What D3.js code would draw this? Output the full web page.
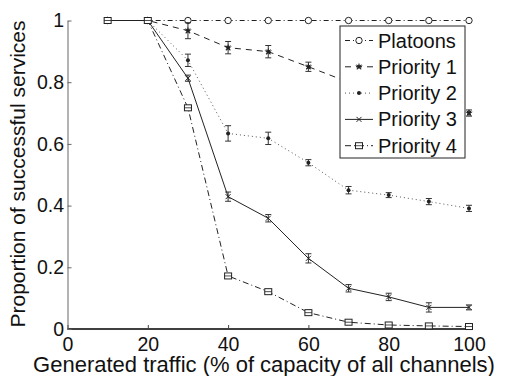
<!DOCTYPE html>
<html>
<head>
<meta charset="utf-8">
<script src="https://cdn.jsdelivr.net/npm/d3@7"></script>
<style>
  body { margin: 0; background: #fff; }
  text { font-family: "Liberation Sans", Arial, sans-serif; fill: #111; }
</style>
</head>
<body>
<div id="chart"></div>
<script>
// data
var traffic = [10, 20, 30, 40, 50, 60, 70, 80, 90, 100];
var seriesNames = ["Platoons", "Priority 1", "Priority 2", "Priority 3", "Priority 4"];
var platoons  = [1, 1, 1, 1, 1, 1, 1, 1, 1, 1];
var priority1 = [1, 1, 0.967, 0.912, 0.899, 0.85, 0.80, 0.76, 0.73, 0.70];
var priority2 = [1, 1, 0.871, 0.634, 0.618, 0.539, 0.45, 0.434, 0.413, 0.391];
var priority3 = [1, 1, 0.813, 0.429, 0.359, 0.229, 0.132, 0.104, 0.07, 0.07];
var priority4 = [1, 1, 0.717, 0.172, 0.121, 0.053, 0.022, 0.013, 0.01, 0.008];
// half-width of error bars
var err1 = [0, 0, 0.026, 0.02, 0.02, 0.015, 0.015, 0.015, 0.015, 0.01];
var err2 = [0, 0, 0.02, 0.025, 0.02, 0.01, 0.012, 0.008, 0.01, 0.01];
var err3 = [0, 0, 0.01, 0.015, 0.012, 0.015, 0.012, 0.012, 0.015, 0.008];
var err4 = [0, 0, 0.005, 0.005, 0.004, 0.004, 0.004, 0.003, 0.003, 0.003];
var xTicks = [0, 20, 40, 60, 80, 100];
var yTicks = [0, 0.2, 0.4, 0.6, 0.8, 1];

var width = 509, height = 376;
var margin = {top: 20.5, right: 40, bottom: 47, left: 67.5};

var svg = d3.select("#chart").append("svg")
  .attr("width", width)
  .attr("height", height);

var x = d3.scaleLinear().domain([0, 100]).range([margin.left, 469]);
var y = d3.scaleLinear().domain([0, 1]).range([329, margin.top]);

// axes (ticks point inward, like matlab)
var xAxis = svg.append("g")
  .attr("transform", "translate(0," + y(0) + ")")
  .call(d3.axisBottom(x).tickValues(xTicks).tickSizeInner(-4).tickSizeOuter(0).tickPadding(8));
xAxis.select(".domain").attr("stroke", "#000").attr("stroke-width", 1.4)
  .attr("d", "M" + x(0) + ",0H" + (x(100) + 2));
xAxis.selectAll("text").style("font-size", "19.5px").attr("dy", "0.72em");
xAxis.selectAll(".tick line").attr("stroke", "#444");

var yAxis = svg.append("g")
  .attr("transform", "translate(" + x(0) + ",0)")
  .call(d3.axisLeft(y).tickValues(yTicks).tickFormat(d3.format("~g")).tickSizeInner(-4).tickSizeOuter(0).tickPadding(3.5));
yAxis.select(".domain").attr("stroke", "#666").attr("stroke-width", 1);
yAxis.selectAll(".tick line").attr("stroke", "#666");
yAxis.selectAll("text").style("font-size", "19.5px");

// axis titles
svg.append("text")
  .attr("x", 264)
  .attr("y", 372)
  .attr("text-anchor", "middle")
  .style("font-size", "22px")
  .text("Generated traffic (% of capacity of all channels)");

svg.append("text")
  .attr("transform", "translate(25," + 174 + ") rotate(-90)")
  .attr("text-anchor", "middle")
  .style("font-size", "21px")
  .text("Proportion of successful services");

var series = [
  {name: seriesNames[0], values: platoons,  err: null, dash: "5,3,1,3", marker: "circle"},
  {name: seriesNames[1], values: priority1, err: err1, dash: "6,5", marker: "star"},
  {name: seriesNames[2], values: priority2, err: err2, dash: "1,3", marker: "dot"},
  {name: seriesNames[3], values: priority3, err: err3, dash: null, marker: "cross"},
  {name: seriesNames[4], values: priority4, err: err4, dash: "6,3,1,3", marker: "square"}
];

var line = d3.line().x(function(d) { return x(d[0]); }).y(function(d) { return y(d[1]); });

function drawMarker(g, kind, cx, cy) {
  if (kind === "circle") {
    g.append("circle").attr("cx", cx).attr("cy", cy).attr("r", 3.2)
      .attr("fill", "#fff").attr("stroke", "#222").attr("stroke-width", 1);
  } else if (kind === "star") {
    g.append("path").attr("transform", "translate(" + cx + "," + cy + ")")
      .attr("d", d3.symbol().type(d3.symbolStar).size(18)())
      .attr("fill", "#222");
    g.append("path").attr("transform", "translate(" + cx + "," + cy + ")")
      .attr("d", d3.symbol().type(d3.symbolTimes).size(14)())
      .attr("stroke", "#222").attr("stroke-width", 1).attr("fill", "none");
  } else if (kind === "dot") {
    g.append("circle").attr("cx", cx).attr("cy", cy).attr("r", 2)
      .attr("fill", "#222");
  } else if (kind === "cross") {
    g.append("path").attr("transform", "translate(" + cx + "," + cy + ")")
      .attr("d", d3.symbol().type(d3.symbolTimes).size(18)())
      .attr("stroke", "#222").attr("stroke-width", 1).attr("fill", "none");
  } else if (kind === "square") {
    g.append("rect").attr("x", cx - 3.5).attr("y", cy - 3).attr("width", 7).attr("height", 6)
      .attr("fill", "#fff").attr("stroke", "#222").attr("stroke-width", 1);
    g.append("line").attr("x1", cx - 3.5).attr("x2", cx + 3.5).attr("y1", cy).attr("y2", cy)
      .attr("stroke", "#222").attr("stroke-width", 0.8);
  }
}

var plot = svg.append("g");

series.forEach(function(s) {
  var pts = traffic.map(function(t, i) { return [t, s.values[i]]; });
  plot.append("path")
    .datum(pts)
    .attr("d", line)
    .attr("fill", "none")
    .attr("stroke", s.dash === "1,3" ? "#555" : "#222")
    .attr("stroke-width", 1)
    .attr("stroke-dasharray", s.dash);
});

series.forEach(function(s) {
  var g = plot.append("g");
  traffic.forEach(function(t, i) {
    var cx = x(t), cy = y(s.values[i]);
    if (s.err && s.err[i] > 0) {
      var y1 = y(s.values[i] + s.err[i]), y2 = y(s.values[i] - s.err[i]);
      g.append("line").attr("x1", cx).attr("x2", cx).attr("y1", y1).attr("y2", y2)
        .attr("stroke", "#333").attr("stroke-width", 1);
      [y1, y2].forEach(function(yy) {
        g.append("line").attr("x1", cx - 3).attr("x2", cx + 3).attr("y1", yy).attr("y2", yy)
          .attr("stroke", "#333").attr("stroke-width", 1);
      });
    }
    drawMarker(g, s.marker, cx, cy);
  });
});

// legend
var legend = svg.append("g");
legend.append("rect")
  .attr("x", 340).attr("y", 26).attr("width", 125).attr("height", 132)
  .attr("fill", "#fff").attr("stroke", "#222").attr("stroke-width", 1);

series.forEach(function(s, i) {
  var ly = 40.5 + i * 26.3;
  var g = legend.append("g");
  g.append("line").attr("x1", 345).attr("x2", 373).attr("y1", ly).attr("y2", ly)
    .attr("stroke", s.dash === "1,3" ? "#555" : "#222").attr("stroke-width", 1)
    .attr("stroke-dasharray", s.dash);
  drawMarker(g, s.marker, 359, ly);
  g.append("text")
    .attr("x", 378).attr("y", ly + 7)
    .style("font-size", "20px")
    .text(s.name);
});
</script>
</body>
</html>
